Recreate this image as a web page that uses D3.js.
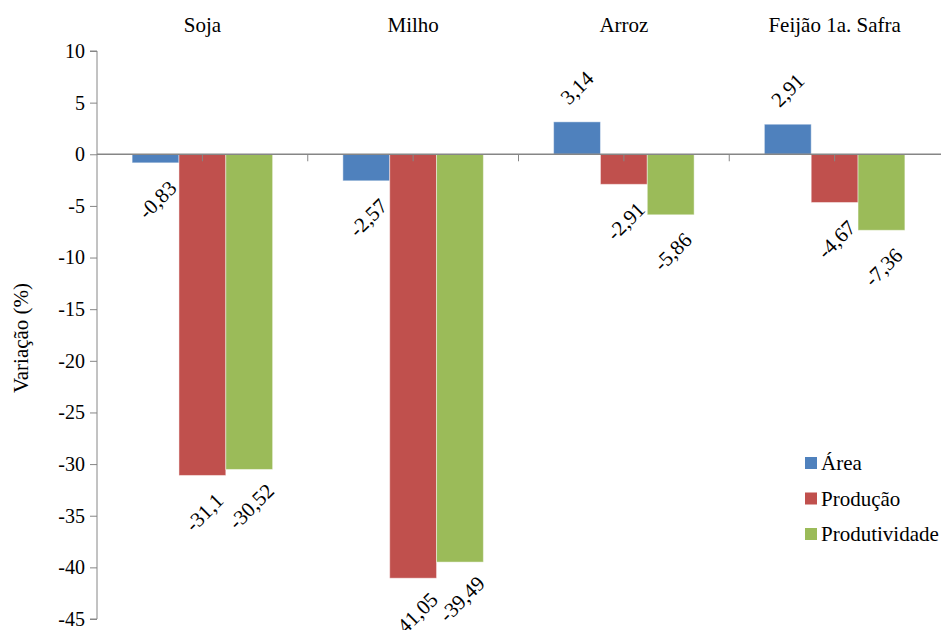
<!DOCTYPE html>
<html>
<head>
<meta charset="utf-8">
<script src="https://cdn.jsdelivr.net/npm/d3@7"></script>
</head>
<body style="margin:0">
<svg id="chart" width="941" height="630"></svg>
<script>
const categories = ["Soja", "Milho", "Arroz", "Feijão 1a. Safra"];
const seriesNames = ["Área", "Produção", "Produtividade"];
const area = [-0.83, -2.57, 3.14, 2.91];
const producao = [-31.1, -41.05, -2.91, -4.67];
const produtividade = [-30.52, -39.49, -5.86, -7.36];
const labelsArea = ["-0,83", "-2,57", "3,14", "2,91"];
const labelsProducao = ["-31,1", "-41,05", "-2,91", "-4,67"];
const labelsProdutividade = ["-30,52", "-39,49", "-5,86", "-7,36"];
const yTicks = [10, 5, 0, -5, -10, -15, -20, -25, -30, -35, -40, -45];
const colors = ["#4F81BD", "#C0504D", "#9BBB59"];

const seriesValues = [area, producao, produtividade];
const seriesLabels = [labelsArea, labelsProducao, labelsProdutividade];
const fontName = ["Liberation", "Serif"].join(" ");
const FONT = `"${fontName}", monospace`;

const svg = d3.select("#chart");
const plot = { left: 97, right: 940, top: 51, bottom: 619 };

const x = d3.scaleBand().domain(categories).range([plot.left, plot.right]).paddingInner(0).paddingOuter(0);
const xInner = d3.scaleBand().domain(seriesNames).range([0, x.bandwidth()]).paddingOuter(0.75).paddingInner(0);
const y = d3.scaleLinear().domain([-45, 10]).range([plot.bottom, plot.top]);

function styleText(sel, size) {
  sel.style("font-family", FONT).style("font-size", size + "px").style("fill", "#000");
}

// Y axis
const yAxis = d3.axisLeft(y).tickValues(yTicks).tickSize(7).tickPadding(5).tickFormat(d => String(d));
const gy = svg.append("g").attr("transform", `translate(${plot.left},0)`).call(yAxis);
gy.attr("font-family", null).attr("font-size", null);
gy.selectAll("path, line").attr("stroke", "#868686");
gy.selectAll("path").attr("d", `M-7,${y(10)}H0V${y(-45)}H-7`);
styleText(gy.selectAll("text"), 20);

// Bars
const groups = svg.append("g").selectAll("g.cat").data(categories).join("g")
  .attr("class", "cat").attr("transform", d => `translate(${x(d)},0)`);

seriesNames.forEach((s, si) => {
  groups.append("rect")
    .attr("x", xInner(s))
    .attr("width", xInner.bandwidth())
    .attr("y", (d, i) => Math.min(y(seriesValues[si][i]), y(0)))
    .attr("height", (d, i) => Math.abs(y(seriesValues[si][i]) - y(0)))
    .attr("fill", colors[si])
    .attr("stroke", "rgba(255,255,255,0.45)")
    .attr("stroke-width", 1);
});

// X axis line at zero with ticks at every half band
const zeroY = y(0);
svg.append("line").attr("x1", plot.left).attr("x2", plot.right + 1)
  .attr("y1", zeroY).attr("y2", zeroY).attr("stroke", "#868686").attr("stroke-width", 1.5);
const halfTicks = d3.range(1, categories.length * 2).map(k => plot.left + k * x.bandwidth() / 2);
svg.append("g").selectAll("line").data(halfTicks).join("line")
  .attr("x1", d => d).attr("x2", d => d)
  .attr("y1", zeroY).attr("y2", zeroY + 7)
  .attr("stroke", "#868686").attr("stroke-width", 1);

// Data labels
seriesNames.forEach((s, si) => {
  const t = groups.append("text")
    .attr("transform", (d, i) => {
      const v = seriesValues[si][i];
      const cx = xInner(s) + xInner.bandwidth() / 2;
      const cy = v < 0 ? y(v) + 37 : y(v) - 34;
      return `translate(${cx + (v < 0 ? 2 : 0)},${cy}) rotate(-45)`;
    })
    .attr("text-anchor", "middle")
    .attr("dominant-baseline", "central")
    .text((d, i) => seriesLabels[si][i]);
  styleText(t, 21);
});

// Category labels at top
styleText(svg.append("g").selectAll("text").data(categories).join("text")
  .attr("x", d => x(d) + x.bandwidth() / 2)
  .attr("y", 32)
  .attr("text-anchor", "middle")
  .text(d => d), 21);

// Y axis title
styleText(svg.append("text")
  .attr("transform", `translate(28,${(plot.top + plot.bottom) / 2 + 3}) rotate(-90)`)
  .attr("text-anchor", "middle")
  .text("Variação (%)"), 21);

// Legend
const legend = svg.append("g").selectAll("g").data(seriesNames).join("g")
  .attr("transform", (d, i) => `translate(805,${463 + i * 35.5})`);
legend.append("rect").attr("x", 0).attr("y", -6).attr("width", 12).attr("height", 12)
  .attr("fill", (d, i) => colors[i]);
styleText(legend.append("text").attr("x", 16).attr("y", 0).attr("dominant-baseline", "central").text(d => d), 21);
</script>
</body>
</html>
